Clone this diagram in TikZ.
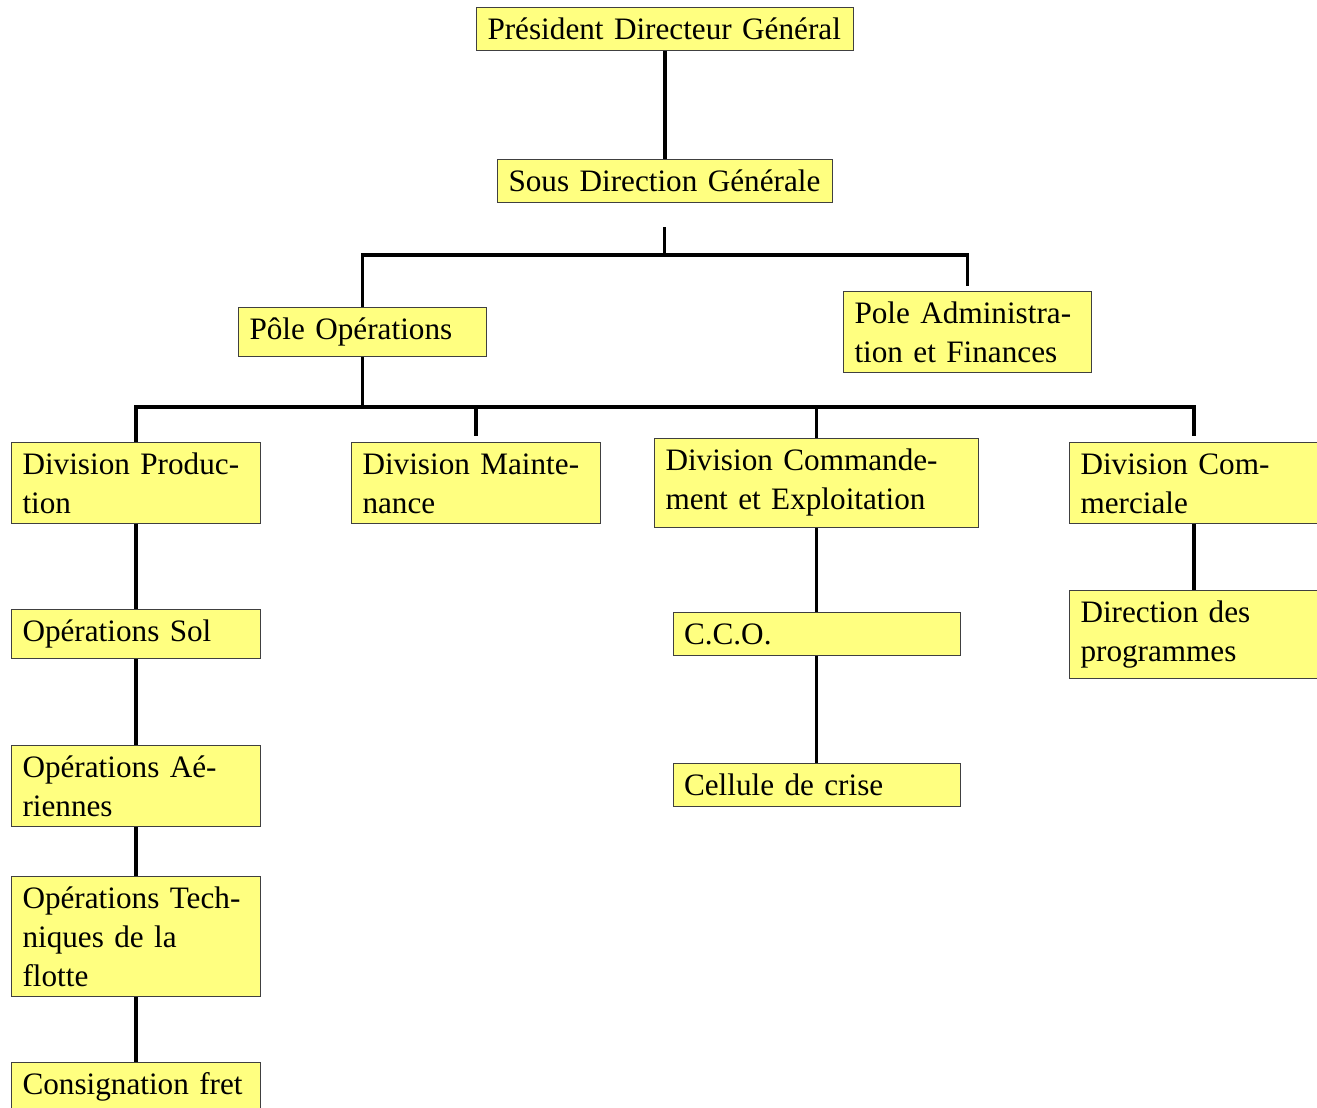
\documentclass[tikz,border=0pt]{standalone}
\usepackage{fontspec}
\setmainfont{Liberation Serif}
\definecolor{boxyellow}{RGB}{255,255,128}
\tikzset{
  box/.style={draw=black!75, line width=1pt, fill=boxyellow, anchor=north west,
    inner xsep=11pt, inner ysep=0pt, align=left, text height=32pt,
    font=\fontsize{31.2}{39}\selectfont},
  conn/.style={line width=3.2pt, black}
}
\begin{document}
\begin{tikzpicture}[x=1pt,y=-1pt]
\useasboundingbox (0,0) rectangle (1317,1108);
% boxes
\node[box, text width=355pt, text depth=11pt] (pdg) at (476,7) {Président Directeur Général};
\node[box, text width=313pt, text depth=11pt] (sdg) at (497,159) {Sous Direction Générale};
\node[box, text width=226pt, text depth=17pt] (pop) at (238,307) {Pôle Opérations};
\node[box, text width=226pt, text depth=49pt] (paf) at (843,291) {Pole Administra-\\tion et Finances};
\node[box, text width=227pt, text depth=49pt] (dprod) at (11,442) {Division Produc-\\tion};
\node[box, text width=227pt, text depth=49pt] (dmaint) at (351,442) {Division Mainte-\\nance};
\node[box, text width=302pt, text depth=57pt] (dce) at (654,438) {Division Commande-\\ment et Exploitation};
\node[box, text width=227pt, text depth=49pt] (dcom) at (1069,442) {Division Com-\\merciale};
\node[box, text width=227pt, text depth=17pt] (osol) at (11,609) {Opérations Sol};
\node[box, text width=227pt, text depth=49pt] (oaer) at (11,745) {Opérations Aé-\\riennes};
\node[box, text width=227pt, text depth=88pt] (otech) at (11,876) {Opérations Tech-\\niques de la\\flotte};
\node[box, text width=227pt, text depth=18pt] (cfret) at (11,1062) {Consignation fret};
\node[box, text width=265pt, text depth=11pt] (cco) at (672.5,612) {C.C.O.};
\node[box, text width=265pt, text depth=11pt] (crise) at (672.5,763) {Cellule de crise};
\node[box, text width=227pt, text depth=56pt] (dprog) at (1069,590) {Direction des\\programmes};
% junction coordinates
\coordinate (sdgstub) at (664.5,227);
\coordinate (bus1) at (664.5,255);
\coordinate (pafend) at (paf.north |- 0,286);
\coordinate (bus2) at (pop.south |- 0,407);
\coordinate (dmaintend) at (dmaint.north |- 0,436);
\coordinate (dcomend) at (dcom.north |- 0,436);
% connectors
\draw[conn] (pdg.south) -- (sdg.north);
\draw[conn] (sdgstub) -- (bus1);
\draw[conn] (pop.north) |- (bus1) -| (pafend);
\draw[conn] (pop.south) -- (bus2);
\draw[conn] (dprod.north) |- (bus2);
\draw[conn] (bus2) -| (dmaintend);
\draw[conn] (bus2) -| (dce.north);
\draw[conn] (bus2) -| (dcomend);
\draw[conn] (dprod.south) -- (osol.north);
\draw[conn] (osol.south) -- (oaer.north);
\draw[conn] (oaer.south) -- (otech.north);
\draw[conn] (otech.south) -- (cfret.north);
\draw[conn] (dce.south) -- (cco.north);
\draw[conn] (cco.south) -- (crise.north);
\draw[conn] (dcom.south) -- (dprog.north);
\end{tikzpicture}
\end{document}
